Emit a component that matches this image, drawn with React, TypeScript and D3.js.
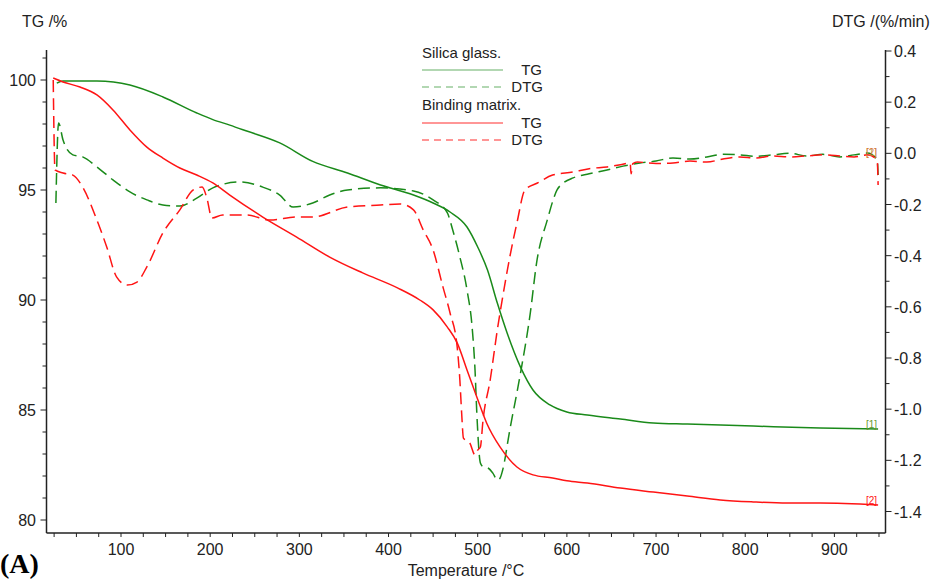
import React from 'react';
import * as d3 from 'd3';

// Silica glass (green)
const silicaTgTemp = [28, 35, 73, 110, 147, 185, 203, 222, 241, 278, 315, 354, 391, 428, 450, 469, 488, 500, 511, 522, 533, 548, 562, 581, 600, 623, 660, 697, 735, 809, 884, 949];
const silicaTg = [99.86, 99.95, 99.95, 99.77, 99.23, 98.5, 98.2, 97.95, 97.68, 97.14, 96.3, 95.77, 95.23, 94.77, 94.41, 94.0, 93.32, 92.41, 91.36, 89.86, 88.5, 86.95, 85.91, 85.23, 84.91, 84.77, 84.59, 84.41, 84.36, 84.27, 84.18, 84.14];

const silicaDtgTemp = [27, 30, 35, 46, 57, 73, 91, 110, 129, 147, 166, 185, 203, 233, 259, 278, 293, 315, 334, 354, 391, 428, 450, 466, 472, 480, 488, 494, 497, 499, 503, 506, 512, 517, 522, 525, 528, 536, 548, 559, 566, 578, 589, 596, 607, 625, 645, 663, 682, 700, 719, 738, 757, 775, 794, 812, 831, 850, 869, 887, 906, 922, 937, 948, 949];
const silicaDtg = [-0.194, 0.119, 0.052, -0.006, -0.014, -0.053, -0.104, -0.151, -0.182, -0.202, -0.206, -0.175, -0.135, -0.112, -0.132, -0.163, -0.21, -0.194, -0.163, -0.143, -0.135, -0.147, -0.182, -0.233, -0.3, -0.405, -0.534, -0.69, -0.847, -1.015, -1.21, -1.225, -1.231, -1.25, -1.277, -1.27, -1.238, -1.081, -0.859, -0.624, -0.429, -0.261, -0.143, -0.116, -0.096, -0.08, -0.065, -0.05, -0.038, -0.03, -0.018, -0.022, -0.014, -0.004, -0.006, -0.012, -0.006, 0.0, -0.01, -0.004, -0.014, -0.006, 0.001, -0.026, -0.085];

// Binding matrix (red)
const matrixTgTemp = [24, 35, 54, 73, 91, 110, 129, 147, 166, 185, 203, 222, 259, 297, 334, 371, 410, 435, 450, 466, 477, 488, 499, 510, 525, 544, 562, 584, 600, 623, 660, 697, 735, 772, 809, 847, 884, 949];
const matrixTg = [100.09, 99.91, 99.68, 99.32, 98.64, 97.73, 96.95, 96.45, 96.0, 95.68, 95.32, 94.77, 93.77, 92.86, 91.95, 91.23, 90.55, 90.0, 89.55, 88.77, 88.05, 86.82, 85.59, 84.41, 83.32, 82.41, 82.05, 81.91, 81.78, 81.68, 81.45, 81.27, 81.09, 80.91, 80.82, 80.77, 80.77, 80.68];

const matrixDtgTemp = [24, 26, 35, 46, 57, 73, 84, 95, 107, 118, 129, 147, 166, 181, 191, 196, 202, 214, 241, 267, 297, 315, 354, 391, 413, 428, 439, 450, 461, 469, 477, 480, 482, 484, 488, 491, 497, 500, 503, 506, 514, 522, 528, 536, 544, 553, 567, 584, 607, 625, 645, 660, 671, 672, 674, 679, 700, 719, 738, 757, 775, 794, 812, 831, 850, 869, 887, 906, 922, 937, 948, 949];
const matrixDtg = [0.287, -0.065, -0.077, -0.085, -0.132, -0.261, -0.366, -0.483, -0.515, -0.503, -0.444, -0.311, -0.221, -0.143, -0.132, -0.171, -0.253, -0.241, -0.241, -0.261, -0.249, -0.249, -0.21, -0.202, -0.198, -0.221, -0.3, -0.378, -0.522, -0.624, -0.757, -0.886, -1.015, -1.113, -1.124, -1.132, -1.179, -1.16, -1.148, -1.042, -0.886, -0.69, -0.562, -0.405, -0.272, -0.143, -0.116, -0.085, -0.073, -0.06, -0.053, -0.045, -0.038, -0.08, -0.04, -0.034, -0.04, -0.038, -0.03, -0.034, -0.022, -0.014, -0.018, -0.01, -0.014, -0.01, -0.006, -0.01, -0.014, -0.006, -0.026, -0.124];

const xTicks = [100, 200, 300, 400, 500, 600, 700, 800, 900];
const tgTicks = [80, 85, 90, 95, 100];
const dtgTicks = [0.4, 0.2, 0.0, -0.2, -0.4, -0.6, -0.8, -1.0, -1.2, -1.4];

const GREEN = '#1a8a1a';
const RED = '#ff1414';
const AXIS = '#222';
const FONT = 'Liberation Sans, Arial, sans-serif';

const left = 46.5, right = 885.5, top = 50, bottom = 533;

const x = d3.scaleLinear().domain([100, 900]).range([121, 834.4]);
const yTg = d3.scaleLinear().domain([80, 100]).range([520, 80]);
const yDtg = d3.scaleLinear().domain([-1.4, 0.4]).range([511.5, 51]);

function path(temps: number[], vals: number[], y: d3.ScaleLinear<number, number>) {
  const pts: [number, number][] = temps.map((t, i) => [x(t), y(vals[i])]);
  return d3.line().curve(d3.curveMonotoneX)(pts) || '';
}

export default function App() {
  const xMinor = d3.range(25, 951, 25);
  const tgMinor = d3.range(80, 102, 1);
  const dtgMinor = d3.range(-14, 5, 1).map((v) => v / 10);

  return (
    <div style={{ position: 'absolute', left: 0, top: 0 }}>
      <svg width={942} height={579} style={{ display: 'block', background: '#fff' }} fontFamily={FONT}>
        {/* curves */}
        <path d={path(silicaDtgTemp, silicaDtg, yDtg)} fill="none" stroke={GREEN} strokeWidth={1.5} strokeDasharray="12,6" />
        <path d={path(matrixDtgTemp, matrixDtg, yDtg)} fill="none" stroke={RED} strokeWidth={1.5} strokeDasharray="12,6" />
        <path d={path(silicaTgTemp, silicaTg, yTg)} fill="none" stroke={GREEN} strokeWidth={1.5} />
        <path d={path(matrixTgTemp, matrixTg, yTg)} fill="none" stroke={RED} strokeWidth={1.5} />

        {/* end markers */}
        <text x={866} y={428} fontSize={10} fill="#6a9a30">[1]</text>
        <text x={866} y={504} fontSize={10} fill={RED}>[2]</text>
        <text x={866} y={156} fontSize={10} fill="#8a9a30" opacity={0.8}>[1]</text>
        <text x={866} y={156} fontSize={10} fill="#f06030" opacity={0.7}>[2]</text>

        {/* axes */}
        <line x1={left} x2={left} y1={top} y2={bottom} stroke={AXIS} strokeWidth={1.5} />
        <line x1={right} x2={right} y1={top} y2={bottom} stroke={AXIS} strokeWidth={1.5} />
        <line x1={left} x2={right} y1={bottom} y2={bottom} stroke={AXIS} strokeWidth={1.5} />

        {xMinor.map((t) => (
          <line key={'xm' + t} x1={x(t)} x2={x(t)} y1={bottom} y2={bottom + 4} stroke={AXIS} strokeWidth={1} />
        ))}
        {xTicks.map((t) => (
          <text key={'xt' + t} x={x(t)} y={555} fontSize={16} textAnchor="middle" fill={AXIS}>{t}</text>
        ))}

        {tgMinor.map((v) => (
          <line key={'lm' + v} x1={left - (v % 5 === 0 ? 6 : 4)} x2={left} y1={yTg(v)} y2={yTg(v)} stroke={AXIS} strokeWidth={1} />
        ))}
        {tgTicks.map((v) => (
          <text key={'lt' + v} x={36} y={yTg(v) + 6} fontSize={16} textAnchor="end" fill={AXIS}>{v}</text>
        ))}

        {dtgMinor.map((v) => (
          <line key={'rm' + v} x1={right} x2={right + (Math.round(v * 10) % 2 === 0 ? 6 : 4)} y1={yDtg(v)} y2={yDtg(v)} stroke={AXIS} strokeWidth={1} />
        ))}
        {dtgTicks.map((v) => (
          <text key={'rt' + v} x={894} y={yDtg(v) + 6} fontSize={16} fill={AXIS}>{v.toFixed(1)}</text>
        ))}

        {/* axis titles */}
        <text x={22} y={27} fontSize={16} fill={AXIS}>TG /%</text>
        <text x={832} y={27} fontSize={16} fill={AXIS}>DTG /(%/min)</text>
        <text x={466} y={576} fontSize={16} textAnchor="middle" fill={AXIS}>Temperature /°C</text>
        <text x={0} y={573} fontSize={28} fontWeight="bold" fontFamily="Liberation Serif, Times New Roman, serif" fill="#000">(A)</text>

        {/* legend */}
        <text x={422} y={58} fontSize={15} fill={AXIS}>Silica glass.</text>
        <line x1={422} x2={503} y1={70} y2={70} stroke={GREEN} strokeOpacity={0.45} strokeWidth={1.3} />
        <text x={542} y={75} fontSize={15} textAnchor="end" fill={AXIS}>TG</text>
        <line x1={422} x2={503} y1={87} y2={87} stroke={GREEN} strokeOpacity={0.45} strokeWidth={1.3} strokeDasharray="7,5" />
        <text x={543} y={92} fontSize={15} textAnchor="end" fill={AXIS}>DTG</text>
        <text x={422} y={110} fontSize={15} fill={AXIS}>Binding matrix.</text>
        <line x1={422} x2={503} y1={123} y2={123} stroke={RED} strokeOpacity={0.6} strokeWidth={1.3} />
        <text x={542} y={128} fontSize={15} textAnchor="end" fill={AXIS}>TG</text>
        <line x1={422} x2={503} y1={140} y2={140} stroke={RED} strokeOpacity={0.6} strokeWidth={1.3} strokeDasharray="7,5" />
        <text x={543} y={145} fontSize={15} textAnchor="end" fill={AXIS}>DTG</text>
      </svg>
    </div>
  );
}
